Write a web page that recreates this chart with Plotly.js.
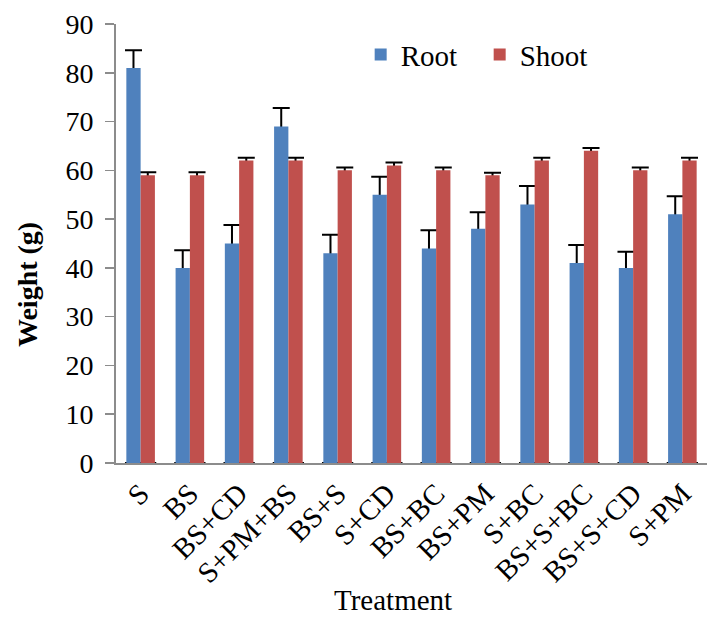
<!DOCTYPE html>
<html>
<head>
<meta charset="utf-8">
<script src="https://cdn.plot.ly/plotly-3.0.1.min.js"></script>
<style>
  html, body { margin: 0; padding: 0; background: #ffffff; }
  #chart { width: 720px; height: 622px; }
</style>
</head>
<body>
<div id="chart"></div>
<script>
// Treatments on the x axis
const treatments = ['S', 'BS', 'BS+CD', 'S+PM+BS', 'BS+S', 'S+CD', 'BS+BC', 'BS+PM', 'S+BC', 'BS+S+BC', 'BS+S+CD', 'S+PM'];

// Mean weights (g)
const rootWeight  = [81, 40, 45, 69, 43, 55, 44, 48, 53, 41, 40, 51];
const shootWeight = [59, 59, 62, 62, 60, 61, 60, 59, 62, 64, 60, 62];

// Error bar sizes (g), drawn upward only
const rootError  = [3.6, 3.6, 3.8, 3.8, 3.8, 3.7, 3.7, 3.4, 3.8, 3.7, 3.3, 3.7];
const shootError = [0.6, 0.6, 0.6, 0.6, 0.6, 0.6, 0.6, 0.5, 0.6, 0.6, 0.6, 0.6];

const yTicks = [0, 10, 20, 30, 40, 50, 60, 70, 80, 90];

const serif = 'Liberation Serif, Times New Roman, serif';
const rootColor = '#4F81BD';
const shootColor = '#C0504D';

// Error whiskers live on clear bars placed underneath the coloured ones,
// so only the part above each bar (stem + cap) stays visible.
function whiskers(name, group, values, errors) {
  return {
    type: 'bar',
    name: name,
    x: treatments,
    y: values,
    offsetgroup: group,
    showlegend: false,
    hoverinfo: 'skip',
    marker: { color: 'rgba(0,0,0,0)', line: { width: 0 } },
    error_y: {
      type: 'data',
      symmetric: false,
      array: errors,
      arrayminus: values,
      color: '#000000',
      thickness: 2,
      width: 8.5
    }
  };
}

const traces = [
  whiskers('Root error', 'root', rootWeight, rootError),
  whiskers('Shoot error', 'shoot', shootWeight, shootError),
  {
    type: 'bar',
    name: 'Root',
    x: treatments,
    y: rootWeight,
    offsetgroup: 'root',
    marker: { color: rootColor }
  },
  {
    type: 'bar',
    name: 'Shoot',
    x: treatments,
    y: shootWeight,
    offsetgroup: 'shoot',
    marker: { color: shootColor }
  }
];

const layout = {
  width: 720,
  height: 622,
  margin: { l: 116, r: 13, t: 24, b: 159 },
  paper_bgcolor: '#ffffff',
  plot_bgcolor: '#ffffff',
  font: { family: serif, color: '#000000', size: 28 },
  barmode: 'group',
  bargap: 0.42,
  bargroupgap: 0,
  showlegend: true,
  legend: {
    orientation: 'h',
    x: 0.414,
    xanchor: 'left',
    y: 0.93,
    yanchor: 'middle',
    bgcolor: 'rgba(0,0,0,0)',
    font: { family: serif, size: 29, color: '#000000' },
    entrywidth: 74,
    entrywidthmode: 'pixels'
  },
  xaxis: {
    type: 'category',
    showline: true,
    linecolor: '#8c8c8c',
    linewidth: 2,
    ticks: '',
    tickangle: -45,
    tickfont: { family: serif, size: 29, color: '#000000' },
    showgrid: false,
    zeroline: false
  },
  yaxis: {
    range: [0, 90],
    tickvals: yTicks,
    ticktext: yTicks.map(String),
    showline: true,
    linecolor: '#8c8c8c',
    linewidth: 2,
    ticks: 'outside',
    ticklen: 9,
    tickwidth: 1.5,
    tickcolor: '#8c8c8c',
    ticklabelstandoff: 6,
    tickfont: { family: serif, size: 28, color: '#000000' },
    showgrid: false,
    zeroline: false
  },
  annotations: [
    {
      text: 'Treatment',
      xref: 'paper', yref: 'paper',
      x: 0.4687, y: -0.312,
      xanchor: 'center', yanchor: 'middle',
      showarrow: false,
      font: { family: serif, size: 29, color: '#000000' }
    },
    {
      text: '<b>Weight (g)</b>',
      xref: 'paper', yref: 'paper',
      x: -0.1506, y: 0.4077,
      xanchor: 'center', yanchor: 'middle',
      textangle: -90,
      showarrow: false,
      font: { family: serif, size: 28, color: '#000000' }
    }
  ]
};

Plotly.newPlot('chart', traces, layout, { displayModeBar: false, staticPlot: true });
</script>
</body>
</html>
